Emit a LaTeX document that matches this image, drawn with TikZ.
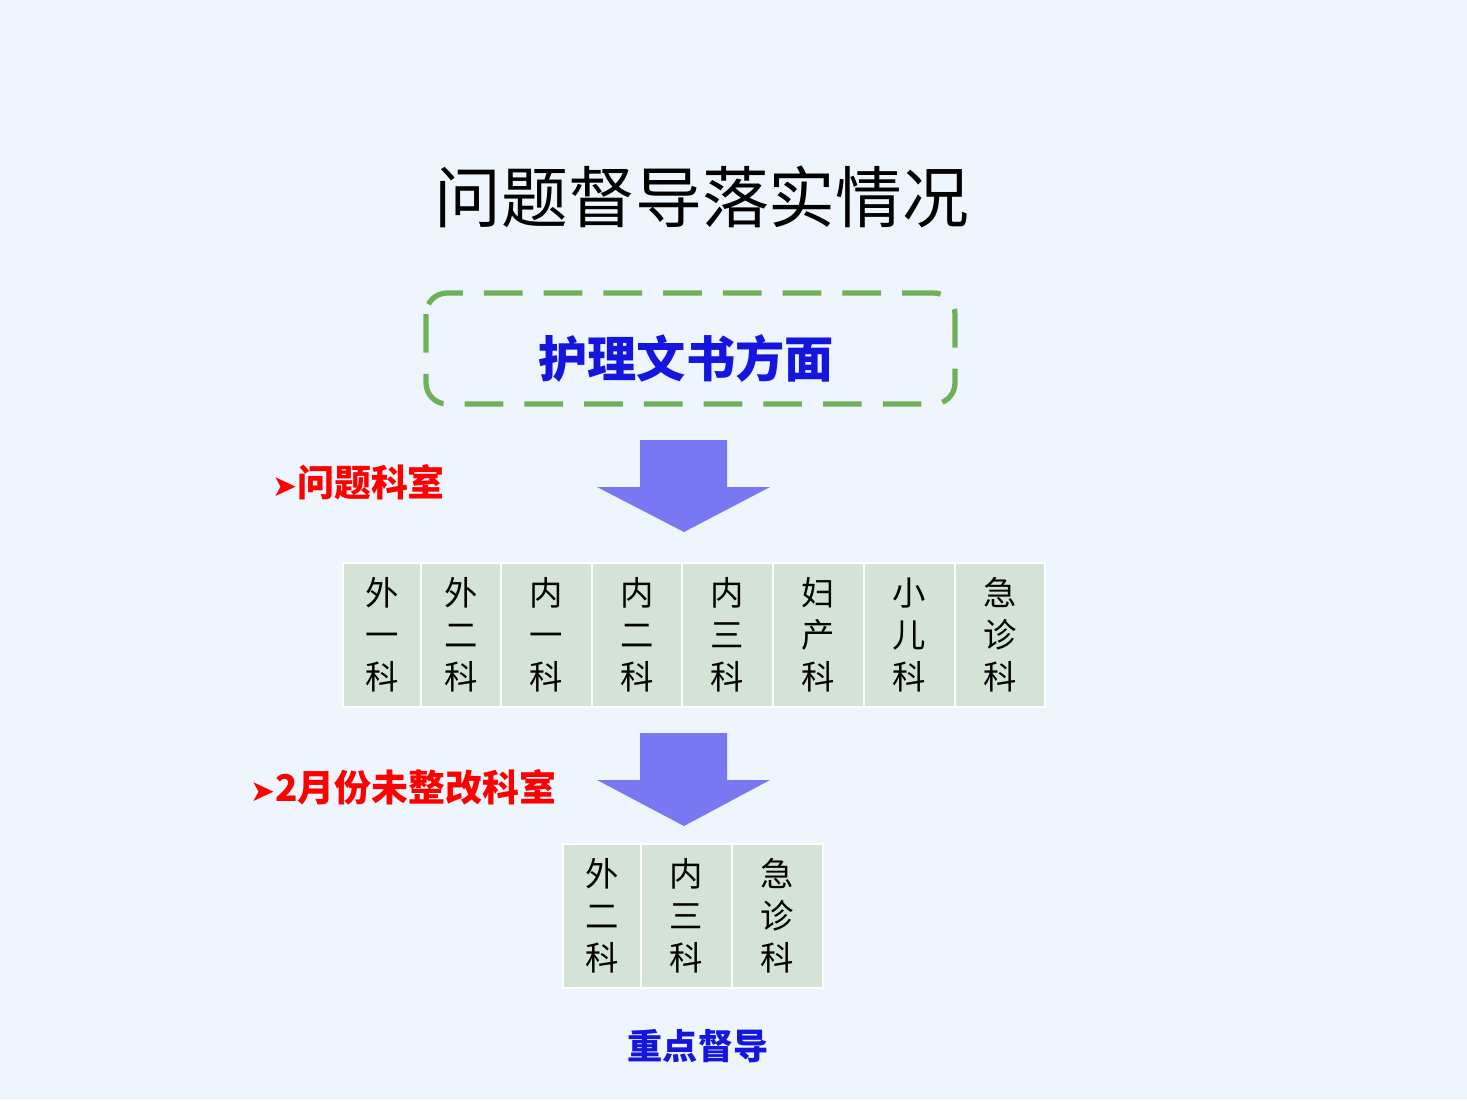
\documentclass[tikz,border=0pt]{standalone}
\usepackage{fontspec}
\setmainfont{Noto Sans CJK SC}
\newfontfamily\symfont{DejaVu Sans}
\usetikzlibrary{positioning}
\definecolor{pagebg}{HTML}{EEF5FC}
\definecolor{boxgreen}{HTML}{6FB15A}
\definecolor{cellgreen}{HTML}{D3E4D6}
\definecolor{arrowblue}{HTML}{7878F2}
\definecolor{titleblue}{HTML}{1515E0}
\tikzset{
	cell/.style={fill=cellgreen, draw=white, line width=1.2pt, align=center,
			font=\fontsize{19}{24}\selectfont, inner sep=0pt, minimum height=2.88cm},
	redlabel/.style={text=red, font=\bfseries\fontsize{21}{24}\selectfont, anchor=west},
	bigarrow/.style={fill=arrowblue}
}

\begin{document}
\begin{tikzpicture}[x=0.02cm, y=-0.02cm]
			\fill[pagebg]	(0, 0) rectangle (1467, 1100);
			\useasboundingbox	(0, 0) rectangle (1467, 1100);

			\node (title) at (702, 197) {\fontsize{38}{42}\selectfont 问题督导落实情况};

			\draw[boxgreen, line width=3pt, dash pattern=on 22pt off 12pt, rounded corners=12pt]
				(426, 293) rectangle (955, 404);
			\node[text=titleblue, font=\bfseries\fontsize{28}{30}\selectfont] (topic) at (686, 358) {护理文书方面};

			% arrows down
			\fill[bigarrow]	(640, 440) -- (727, 440) -- (727, 487) -- (770, 487) -- (684, 532) -- (597, 487) -- (640, 487) -- cycle;
			\fill[bigarrow]	(640, 733) -- (727, 733) -- (727, 780) -- (770, 780) -- (684, 826) -- (597, 780) -- (640, 780) -- cycle;

			\node[redlabel] (lab1) at (266, 482) {{\symfont\fontsize{17}{20}\selectfont ➤}问题科室};
			\node[redlabel] (lab2) at (244, 787) {{\symfont\fontsize{17}{20}\selectfont ➤}2月份未整改科室};

			% first row of departments
			\foreach \xa/\xb/\txt [count=\i] in {343/421/外\\一\\科, 421/501/外\\二\\科, 501/592/内\\一\\科,
					592/682/内\\二\\科, 682/773/内\\三\\科, 773/864/妇\\产\\科, 864/955/小\\儿\\科, 955/1045/急\\诊\\科}
				\node[cell, minimum width={(\xb-\xa)*0.02cm}] (dep\i) at ({(\xa+\xb)/2}, 635) {\txt};

			% second row
			\foreach \xa/\xb/\txt [count=\i] in {563/641/外\\二\\科, 641/732/内\\三\\科, 732/823/急\\诊\\科}
				\node[cell, minimum width={(\xb-\xa)*0.02cm}] (left\i) at ({(\xa+\xb)/2}, 916) {\txt};

			\node[text=titleblue, font=\bfseries\fontsize{20}{24}\selectfont] (focus) at (698, 1046) {重点督导};
		\end{tikzpicture}
\end{document}
